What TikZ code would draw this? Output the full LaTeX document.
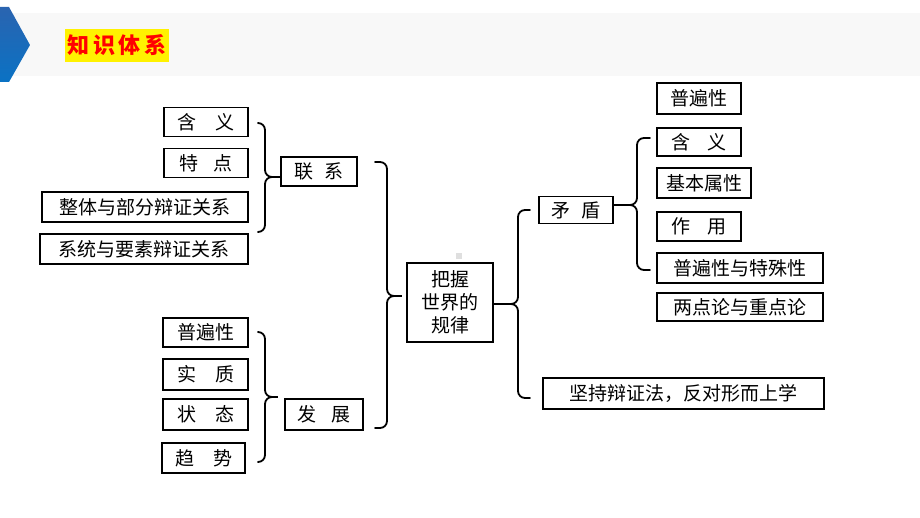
\documentclass[tikz,border=0pt]{standalone}
\usepackage{fontspec}
\setmainfont{Noto Sans CJK SC}
\usetikzlibrary{positioning,calc}

\definecolor{bandgray}{HTML}{F8F8F8}
\definecolor{chevtop}{HTML}{2A64B0}
\definecolor{chevbot}{HTML}{0A72C4}

\tikzset{
  kbox/.style={draw=black,line width=1.3pt,inner sep=0pt,text=black,
    font=\fontsize{19}{23}\selectfont},
  brc/.style={line width=1.8pt,rounded corners=7pt,line cap=round},
}

\begin{document}
\begin{tikzpicture}[x=1pt,y=-1pt]
\useasboundingbox (0,0) rectangle (920,518);

% header
\fill[bandgray] (12,13) rectangle (920,76);
\shade[top color=chevtop,bottom color=chevbot] (0,7) -- (9,7) -- (30,45) -- (9,82) -- (0,82) -- cycle;
\fill[yellow] (65,29) rectangle (169,62);
\node[text=red,font=\fontsize{22}{24}\selectfont\bfseries] (title) at (117,45.5) {知\,识\,体\,系};

% left column
\node[kbox,minimum width=84pt,minimum height=29pt] (hanyiL) at (206,122) {含　义};
\node[kbox,minimum width=84pt,minimum height=29pt] (tedian) at (206,163) {特\hspace{.75em}点};
\node[kbox,minimum width=206pt,minimum height=30pt] (zhengti) at (145,207) {整体与部分辩证关系};
\node[kbox,minimum width=208pt,minimum height=30pt] (xitong) at (144,249) {系统与要素辩证关系};
\node[kbox,minimum width=76pt,minimum height=29pt] (lianxi) at (319,171.5) {联\hspace{.55em}系};

\node[kbox,minimum width=85pt,minimum height=29pt] (pubianL) at (205.5,332.5) {普遍性};
\node[kbox,minimum width=85pt,minimum height=31pt] (shizhi) at (205.5,374.5) {实　质};
\node[kbox,minimum width=85pt,minimum height=31pt] (zhuangtai) at (205.5,414.5) {状　态};
\node[kbox,minimum width=83pt,minimum height=30pt] (qushi) at (203.5,458) {趋　势};
\node[kbox,minimum width=78pt,minimum height=31pt] (fazhan) at (324,414.5) {发\hspace{.8em}展};

% centre
\node[kbox,minimum width=86pt,minimum height=79pt,align=center] (guilv) at (450,302.5) {把握\\世界的\\规律};
\fill[gray!25] (456,253) rectangle (462,259);

% right column
\node[kbox,minimum width=74pt,minimum height=27pt] (maodun) at (576,210) {矛\hspace{.6em}盾};
\node[kbox,minimum width=84pt,minimum height=31pt] (pubianR) at (699,98.5) {普遍性};
\node[kbox,minimum width=84pt,minimum height=28pt] (hanyiR) at (699,142) {含\hspace{.85em}义};
\node[kbox,minimum width=94pt,minimum height=30pt] (jiben) at (704,183) {基本属性};
\node[kbox,minimum width=84pt,minimum height=29pt] (zuoyong) at (699,226.5) {作\hspace{.85em}用};
\node[kbox,minimum width=166pt,minimum height=30pt] (pubianTe) at (740,268) {普遍性与特殊性};
\node[kbox,minimum width=166pt,minimum height=28pt] (liangdian) at (740,307) {两点论与重点论};
\node[kbox,minimum width=281pt,minimum height=31pt] (jianchi) at (683.5,393.5) {坚持辩证法，反对形而上学};

% braces
\coordinate (tipA) at (265,177);
\draw[brc] (258,123) -- (265,123) -- (tipA) -- (272,177);
\draw[brc] (258,232) -- (265,232) -- (tipA) -- (272,177);
\draw[line width=1.8pt] (270,177) -- (lianxi.west |- tipA);

\coordinate (tipB) at (265,397);
\coordinate (endB) at (278,397);
\draw[brc] (258,332) -- (265,332) -- (tipB) -- (272,397);
\draw[brc] (258,462) -- (265,462) -- (tipB) -- (272,397);
\draw[line width=1.8pt] (270,397) -- (endB);

\coordinate (tipC) at (387,296);
\coordinate (endC) at (402,296);
\draw[brc] (375,162) -- (387,162) -- (tipC) -- (395,296);
\draw[brc] (375,428) -- (387,428) -- (tipC) -- (395,296);
\draw[line width=1.8pt] (393,296) -- (endC);

\coordinate (tipD) at (518,304);
\draw[brc] (530,210) -- (518,210) -- (tipD) -- (510,304);
\draw[brc] (530,398) -- (518,398) -- (tipD) -- (510,304);
\draw[line width=1.8pt] (512,304) -- (guilv.east |- tipD);

\coordinate (tipE) at (637,205);
\draw[brc] (650,138) -- (637,138) -- (tipE) -- (629,205);
\draw[brc] (650,270) -- (637,270) -- (tipE) -- (629,205);
\draw[line width=1.8pt] (631,205) -- (maodun.east |- tipE);
\end{tikzpicture}
\end{document}
